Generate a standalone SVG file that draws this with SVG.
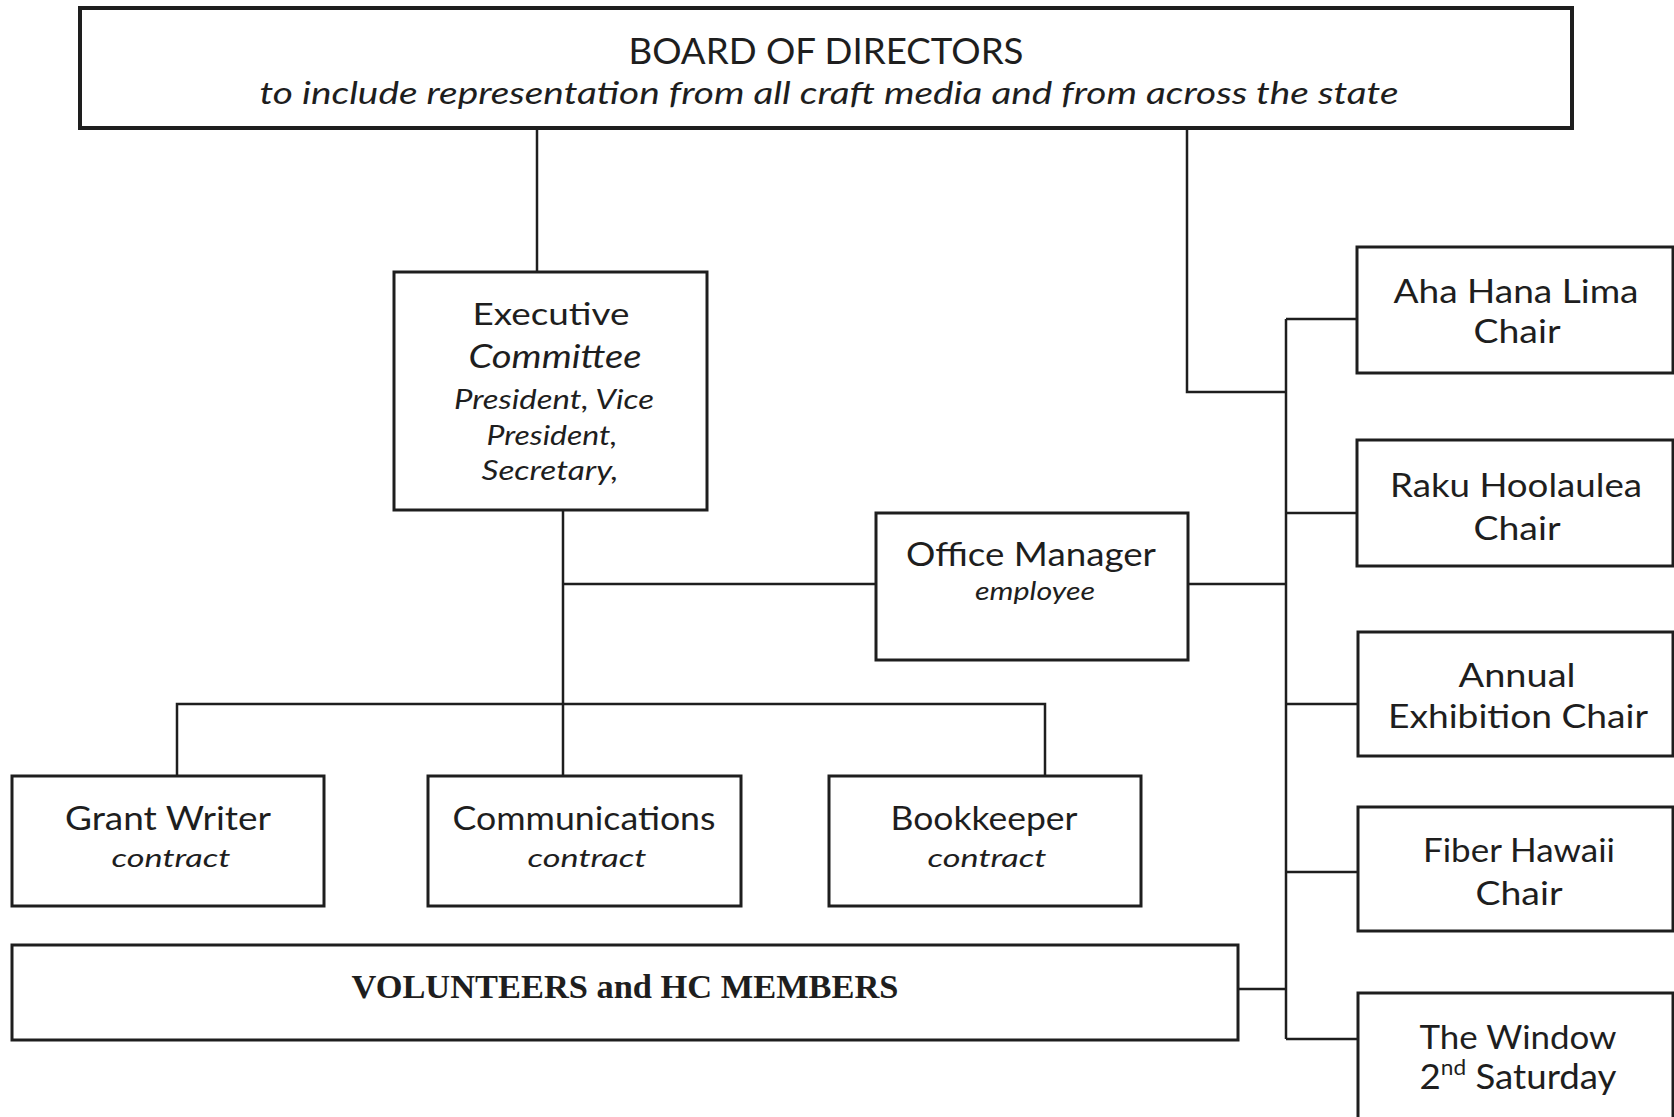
<svg xmlns="http://www.w3.org/2000/svg" width="1674" height="1117" viewBox="0 0 1674 1117">
<style>
.box{fill:#fff;stroke:#1e1e1e;stroke-width:3}
.thick{stroke-width:4}
.con{fill:none;stroke:#1e1e1e;stroke-width:2.5}
text{font-family:Lato,"Open Sans","DejaVu Sans",sans-serif;fill:#1e1e1e;text-anchor:middle}
.it{font-style:italic}
.vol{font-family:"Liberation Serif","DejaVu Serif",serif;font-weight:bold}
</style>
<rect width="1674" height="1117" fill="#fff"/>
<g id="connectors">
<path class="con" d="M537 128V272"/>
<path class="con" d="M1187 128V392H1286"/>
<path class="con" d="M1286 319V1039"/>
<path class="con" d="M1286 319H1357"/>
<path class="con" d="M1286 513H1357"/>
<path class="con" d="M1188 584H1286"/>
<path class="con" d="M1286 704H1357"/>
<path class="con" d="M1286 872H1357"/>
<path class="con" d="M1238 989H1286"/>
<path class="con" d="M1286 1039H1358"/>
<path class="con" d="M563 510V776"/>
<path class="con" d="M563 584H876"/>
<path class="con" d="M177 776V704H1045V776"/>
</g>
<g id="board">
<rect class="box thick" x="80" y="8" width="1492" height="120"/>
<text x="826" y="64" font-size="36" textLength="395" lengthAdjust="spacingAndGlyphs">BOARD OF DIRECTORS</text>
<text class="it" x="829" y="104" font-size="31" textLength="1139" lengthAdjust="spacingAndGlyphs">to include representation from all craft media and from across the state</text>
</g>
<g id="executive">
<rect class="box" x="394" y="272" width="313" height="238"/>
<text x="551" y="325" font-size="30" textLength="157" lengthAdjust="spacingAndGlyphs">Executive</text>
<text class="it" x="555" y="368" font-size="32" textLength="173" lengthAdjust="spacingAndGlyphs">Committee</text>
<text class="it" x="554" y="409" font-size="27" textLength="200" lengthAdjust="spacingAndGlyphs">President, Vice</text>
<text class="it" x="552" y="445" font-size="27" textLength="131" lengthAdjust="spacingAndGlyphs">President,</text>
<text class="it" x="550" y="480" font-size="27" textLength="137" lengthAdjust="spacingAndGlyphs">Secretary,</text>
</g>
<g id="office-manager">
<rect class="box" x="876" y="513" width="312" height="147"/>
<text x="1031" y="566" font-size="32" textLength="250" lengthAdjust="spacingAndGlyphs">Office Manager</text>
<text class="it" x="1035" y="600" font-size="26" textLength="120" lengthAdjust="spacingAndGlyphs">employee</text>
</g>
<g id="grant-writer">
<rect class="box" x="12" y="776" width="312" height="130"/>
<text x="168" y="830" font-size="32" textLength="206" lengthAdjust="spacingAndGlyphs">Grant Writer</text>
<text class="it" x="171" y="867" font-size="26" textLength="119" lengthAdjust="spacingAndGlyphs">contract</text>
</g>
<g id="communications">
<rect class="box" x="428" y="776" width="313" height="130"/>
<text x="584" y="830" font-size="32" textLength="263" lengthAdjust="spacingAndGlyphs">Communications</text>
<text class="it" x="587" y="867" font-size="26" textLength="119" lengthAdjust="spacingAndGlyphs">contract</text>
</g>
<g id="bookkeeper">
<rect class="box" x="829" y="776" width="312" height="130"/>
<text x="984" y="830" font-size="32" textLength="187" lengthAdjust="spacingAndGlyphs">Bookkeeper</text>
<text class="it" x="987" y="867" font-size="26" textLength="119" lengthAdjust="spacingAndGlyphs">contract</text>
</g>
<g id="volunteers">
<rect class="box" x="12" y="945" width="1226" height="95"/>
<text class="vol" x="625" y="998" font-size="33" textLength="547" lengthAdjust="spacingAndGlyphs">VOLUNTEERS and HC MEMBERS</text>
</g>
<g id="aha-hana-lima">
<rect class="box" x="1357" y="247" width="316" height="126"/>
<text x="1516" y="303" font-size="32" textLength="245" lengthAdjust="spacingAndGlyphs">Aha Hana Lima</text>
<text x="1517" y="343" font-size="32" textLength="87" lengthAdjust="spacingAndGlyphs">Chair</text>
</g>
<g id="raku">
<rect class="box" x="1357" y="440" width="316" height="126"/>
<text x="1516" y="497" font-size="32" textLength="252" lengthAdjust="spacingAndGlyphs">Raku Hoolaulea</text>
<text x="1517" y="540" font-size="32" textLength="87" lengthAdjust="spacingAndGlyphs">Chair</text>
</g>
<g id="annual">
<rect class="box" x="1358" y="632" width="315" height="124"/>
<text x="1517" y="687" font-size="32" textLength="117" lengthAdjust="spacingAndGlyphs">Annual</text>
<text x="1518" y="728" font-size="32" textLength="260" lengthAdjust="spacingAndGlyphs">Exhibition Chair</text>
</g>
<g id="fiber">
<rect class="box" x="1358" y="807" width="315" height="124"/>
<text x="1519" y="862" font-size="32" textLength="192" lengthAdjust="spacingAndGlyphs">Fiber Hawaii</text>
<text x="1519" y="905" font-size="32" textLength="87" lengthAdjust="spacingAndGlyphs">Chair</text>
</g>
<g id="window">
<rect class="box" x="1358" y="993" width="315" height="140"/>
<text x="1518" y="1049" font-size="32" textLength="197" lengthAdjust="spacingAndGlyphs">The Window</text>
<text x="1518" y="1089" font-size="34" textLength="197" lengthAdjust="spacingAndGlyphs">2<tspan font-size="21" dy="-14">nd</tspan><tspan dy="14"> Saturday</tspan></text>
</g>
</svg>
